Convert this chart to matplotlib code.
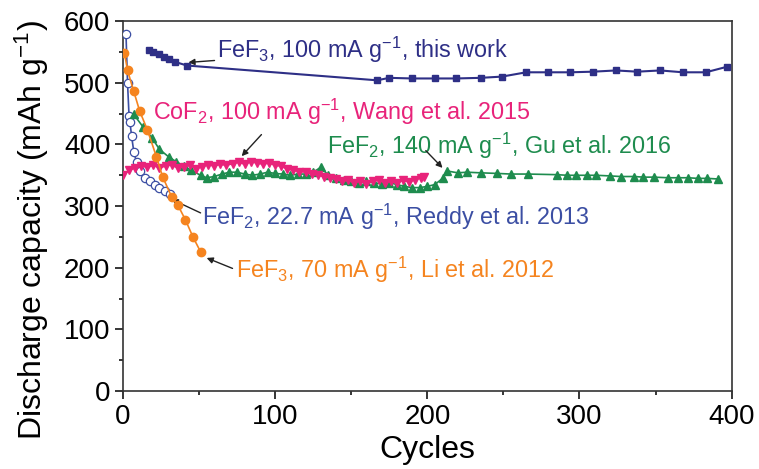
import matplotlib
matplotlib.use("Agg")
import matplotlib.pyplot as plt
from matplotlib.ticker import MultipleLocator

plt.rcParams['font.family'] = ['Liberation Sans', 'DejaVu Sans']
plt.rcParams['mathtext.default'] = 'regular'

# FeF3, 100 mA/g, this work
fef3_this_cycles = [17, 20, 24, 27, 30, 34, 42, 167, 175, 190, 205, 219, 235, 249, 265, 279, 294, 309, 324, 338, 353, 368, 383, 397]
fef3_this_vals = [553, 550, 546, 542, 538, 534, 528, 504, 508, 507, 507, 507, 508, 510, 517, 517, 517, 518, 520, 518, 520, 517, 517, 526]

# FeF3, 70 mA/g, Li 2012
fef3_li_cycles = [1, 3, 7, 11, 16, 22, 26, 32, 36, 41, 46, 51]
fef3_li_vals = [548, 520, 487, 454, 424, 380, 348, 315, 302, 278, 250, 226]

# FeF2, 22.7 mA/g, Reddy 2013
fef2_reddy_cycles = [2, 3, 4, 4.6, 5.7, 7.2, 9, 11, 14.5, 17.8, 21, 24, 27.6, 31]
fef2_reddy_vals = [579, 500, 446, 436, 413, 387, 371, 357, 346, 340, 335, 330, 324, 320]

# FeF2, 140 mA/g, Gu 2016
fef2_gu_cycles = [7, 13, 19, 24, 30, 35, 40, 45, 51, 55, 60, 65, 70, 75, 80, 85, 90, 95, 100, 105,
                  110, 115, 120, 125, 130, 135, 140, 145, 150, 155, 160, 165, 170, 175, 180, 185,
                  190, 195, 200, 205, 210, 213, 220, 226, 235, 246, 255, 266, 285, 292, 298, 305,
                  311, 320, 327, 336, 342, 349, 358, 365, 371, 378, 384, 391]
fef2_gu_vals = [449, 429, 411, 392, 380, 372, 365, 358, 350, 346, 348, 352, 355, 355, 352, 350, 352, 355, 353, 352,
                350, 352, 352, 355, 363, 350, 345, 343, 340, 338, 340, 338, 336, 338, 335, 332,
                330, 330, 332, 335, 345, 357, 354, 355, 354, 353, 352, 352, 351, 350, 350, 350,
                350, 349, 348, 348, 347, 347, 346, 346, 346, 345, 345, 344]

# CoF2, 100 mA/g, Wang 2015
cof2_cycles = [0, 4, 8, 12, 16, 20, 24, 28, 32, 36, 40, 44, 48, 52, 56, 60, 64, 68, 72, 76, 80, 84, 88, 92, 96,
               100, 104, 108, 112, 116, 120, 124, 128, 132, 136, 140, 144, 148, 152, 156, 160, 164, 168,
               172, 176, 180, 184, 188, 192, 196, 198]
cof2_vals = [350, 358, 362, 365, 363, 366, 362, 365, 367, 362, 364, 366, 361, 364, 367, 365, 368, 366, 369, 371, 368, 372, 370, 368, 370,
             366, 365, 360, 358, 356, 355, 352, 350, 348, 346, 344, 340, 342, 338, 341, 336, 340, 342,
             338, 340, 337, 342, 339, 343, 346, 348]

c_navy = '#2e2f86'
c_orange = '#f5841f'
c_blue = '#3b4ea3'
c_green = '#1e8c4e'
c_pink = '#e8237a'

fig = plt.figure(figsize=(7.59, 4.69), dpi=100)
ax = fig.add_axes([0.162, 0.166, 0.802, 0.789])

ax.plot(fef2_reddy_cycles, fef2_reddy_vals, color=c_blue, lw=1.2, marker='o', ms=6,
        mfc='white', mec=c_blue, mew=0.9, zorder=3)
ax.plot(fef2_gu_cycles, fef2_gu_vals, color=c_green, lw=1.2, marker='^', ms=6,
        mfc=c_green, mec=c_green, zorder=4)
ax.plot(cof2_cycles, cof2_vals, color=c_pink, lw=1.2, marker='v', ms=6,
        mfc=c_pink, mec=c_pink, zorder=5)
ax.plot(fef3_li_cycles, fef3_li_vals, color=c_orange, lw=1.2, marker='o', ms=6,
        mfc=c_orange, mec=c_orange, zorder=6)
ax.plot(fef3_this_cycles, fef3_this_vals, color=c_navy, lw=1.5, marker='s', ms=5,
        mfc=c_navy, mec=c_navy, zorder=7)

ax.set_xlim(0, 400)
ax.set_ylim(0, 600)
ax.xaxis.set_major_locator(MultipleLocator(100))
ax.xaxis.set_minor_locator(MultipleLocator(50))
ax.yaxis.set_major_locator(MultipleLocator(100))
ax.yaxis.set_minor_locator(MultipleLocator(50))
ax.tick_params(which='both', direction='out', top=False, right=False, labelsize=20, width=1.1)
ax.tick_params(which='major', length=6, pad=3)
ax.tick_params(which='minor', length=3)
for s in ax.spines.values():
    s.set_linewidth(1.2)
    s.set_color('#333333')

ax.set_xlabel('Cycles', fontsize=23)
ax.set_ylabel('Discharge capacity (mAh g$^{-1}$)', fontsize=23)
ax.xaxis.set_label_coords(0.5, -0.118)
ax.yaxis.set_label_coords(-0.118, 0.436)

fs = 16.8
arrow = dict(arrowstyle='-|>', color='#222222', lw=1.0, mutation_scale=9, shrinkA=0, shrinkB=0)
ax.annotate('FeF$_3$, 100 mA g$^{-1}$, this work', xy=(43, 533), xytext=(62, 554),
            fontsize=fs, color=c_navy, va='center', arrowprops=arrow)
ax.annotate('CoF$_2$, 100 mA g$^{-1}$, Wang et al. 2015', xy=(78, 381), xytext=(20, 452),
            fontsize=fs, color=c_pink, va='center')
ax.annotate('', xy=(78, 381), xytext=(91, 416), arrowprops=arrow)
ax.annotate('FeF$_2$, 140 mA g$^{-1}$, Gu et al. 2016', xy=(210, 362), xytext=(134, 398),
            fontsize=fs, color=c_green, va='center')
ax.annotate('', xy=(210, 362), xytext=(199, 390), arrowprops=arrow)
ax.annotate('FeF$_2$, 22.7 mA g$^{-1}$, Reddy et al. 2013', xy=(32, 311), xytext=(52, 283),
            fontsize=fs, color=c_blue, va='center')
ax.annotate('', xy=(32, 311), xytext=(51, 289), arrowprops=arrow)
ax.annotate('FeF$_3$, 70 mA g$^{-1}$, Li et al. 2012', xy=(55, 216), xytext=(74, 197),
            fontsize=fs, color=c_orange, va='center')
ax.annotate('', xy=(55, 216), xytext=(72, 199), arrowprops=arrow)

fig.savefig('out.png', dpi=100)
